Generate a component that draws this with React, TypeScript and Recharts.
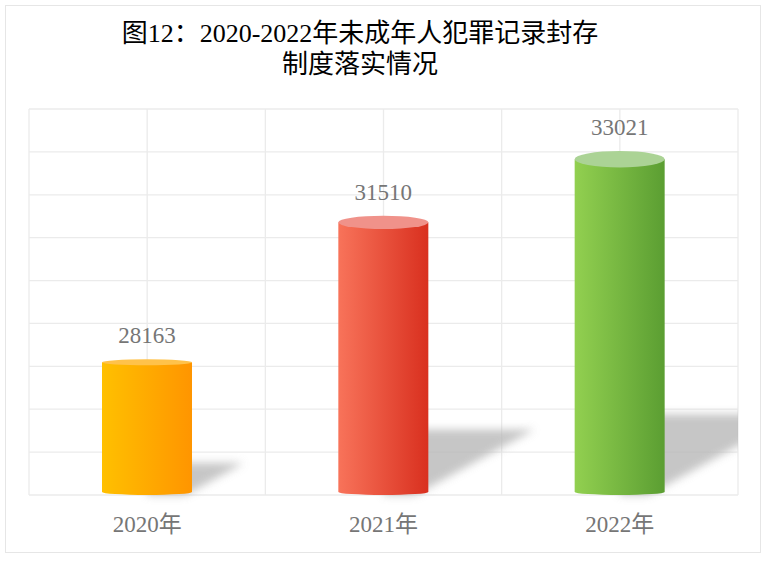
import React from 'react';
import { BarChart, Bar, XAxis, YAxis, CartesianGrid, LabelList } from 'recharts';

const years = ['2020年', '2021年', '2022年'];
const sealedCounts = [28163, 31510, 33021];
const yTicks = [25000, 26000, 27000, 28000, 29000, 30000, 31000, 32000, 33000, 34000];

// body gradient left -> right, top cap colour
const bodyLeft = ['#ffc000', '#f8735a', '#92d050'];
const bodyRight = ['#ff9500', '#d9301f', '#5b9e32'];
const capColor = ['#ffc24a', '#f0928a', '#abd395'];

const data = years.map((year, i) => ({ year, value: sealedCounts[i] }));

const CHART_W = 765;
const CHART_H = 574;
const MARGIN = { top: 109, right: 27, bottom: 49, left: 29 };
const PLOT_RIGHT = CHART_W - MARGIN.right;

const SERIF = "'Liberation Serif', 'Noto Sans CJK SC', serif";

const Cylinder = (props: any) => {
  const { x, y, width, height, index } = props;
  if (!height || height <= 0) return null;
  const bottom = y + height;
  const rx = width / 2;
  const cx = x + rx;
  const ryTop = 3 + 0.025 * Math.max(0, height - 136);
  const ryBot = 3;
  const yt = y + ryTop;
  const yb = bottom - ryBot;

  // cast shadow toward the upper right
  const sh = 0.235 * height;
  const sw = 0.38 * height;
  const tipX = x + width + sw;
  const shadow = [
    [cx, bottom - sh],
    [tipX, bottom - sh],
    [tipX - sh / 0.55, bottom],
    [cx, bottom],
  ]
    .map((p) => p.join(','))
    .join(' ');

  const bodyId = `cyl-body-${index}`;
  const blurId = `cyl-blur-${index}`;
  const clipId = `cyl-clip-${index}`;

  return (
    <g>
      <defs>
        <linearGradient id={bodyId} x1="0" y1="0" x2="1" y2="0">
          <stop offset="0%" stopColor={bodyLeft[index]} />
          <stop offset="100%" stopColor={bodyRight[index]} />
        </linearGradient>
        <filter id={blurId} x="-30%" y="-30%" width="160%" height="160%">
          <feGaussianBlur stdDeviation="4" />
        </filter>
        <clipPath id={clipId}>
          <rect x={0} y={0} width={PLOT_RIGHT} height={CHART_H} />
        </clipPath>
      </defs>
      <g clipPath={`url(#${clipId})`}>
        <polygon points={shadow} fill="#b8b8b8" opacity={0.8} filter={`url(#${blurId})`} />
      </g>
      <path
        d={`M${x},${yt} L${x},${yb} A${rx},${ryBot} 0 0 0 ${x + width},${yb} L${x + width},${yt} Z`}
        fill={`url(#${bodyId})`}
      />
      <ellipse cx={cx} cy={yt} rx={rx} ry={ryTop} fill={capColor[index]} />
    </g>
  );
};

export default function App() {
  return (
    <div
      style={{
        position: 'absolute',
        left: 0,
        top: 0,
        width: CHART_W,
        height: CHART_H,
        background: '#fff',
      }}
    >
      <div
        style={{
          position: 'absolute',
          left: 5,
          top: 5,
          width: 754,
          height: 546,
          border: '1px solid #e6e6e6',
        }}
      />
      <div
        style={{
          position: 'absolute',
          left: 60,
          top: 18,
          width: 600,
          textAlign: 'center',
          fontFamily: SERIF,
          fontSize: 26,
          lineHeight: '31px',
          color: '#000',
        }}
      >
        图12：2020-2022年未成年人犯罪记录封存
        <br />
        制度落实情况
      </div>
      <div style={{ position: 'absolute', left: 0, top: 0 }}>
        <BarChart width={CHART_W} height={CHART_H} data={data} margin={MARGIN}>
          <CartesianGrid
            stroke="#ebebeb"
            strokeWidth={1.3}
            verticalCoordinatesGenerator={({ offset }: any) =>
              Array.from({ length: 7 }, (_, i) => offset.left + (offset.width * i) / 6)
            }
          />
          <XAxis
            dataKey="year"
            axisLine={false}
            tickLine={false}
            tickMargin={15}
            height={30}
            tick={{ fill: '#767676', fontSize: 23, fontFamily: SERIF }}
          />
          <YAxis hide domain={[25000, 34000]} ticks={yTicks} />
          <Bar dataKey="value" barSize={90} shape={<Cylinder />} isAnimationActive={false}>
            <LabelList
              dataKey="value"
              position="top"
              offset={16}
              fill="#767676"
              fontSize={23}
              fontFamily={SERIF}
            />
          </Bar>
        </BarChart>
      </div>
    </div>
  );
}
